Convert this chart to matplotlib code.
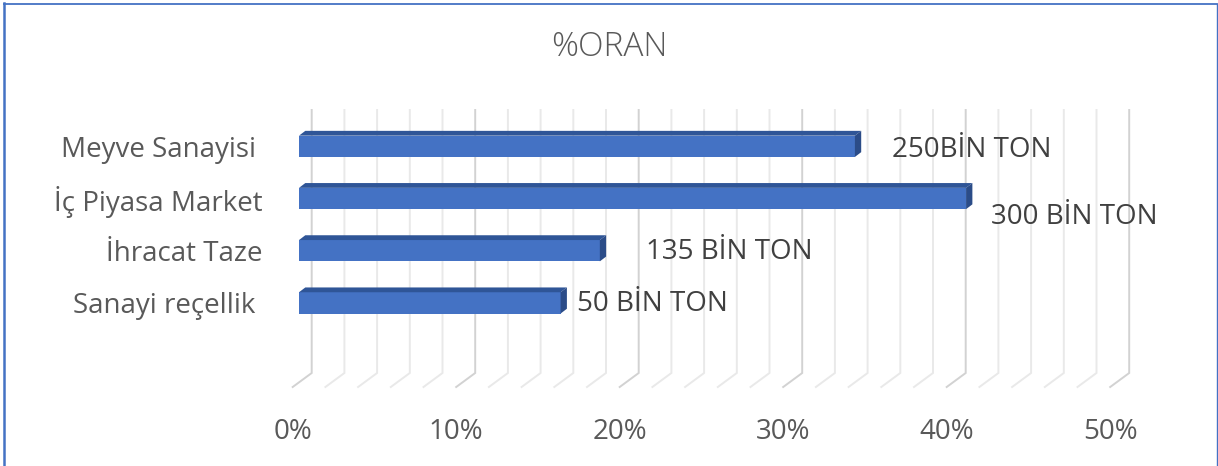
import matplotlib
matplotlib.use('Agg')
import matplotlib.pyplot as plt
import matplotlib.transforms as mtransforms
from matplotlib.patches import Polygon
from matplotlib.lines import Line2D

categories = ['Meyve Sanayisi ', 'İç Piyasa Market', 'İhracat Taze', 'Sanayi reçellik ']
values = [34.0, 40.8, 18.4, 16.0]
bar_labels = ['250BİN TON', '300 BİN TON', '135 BİN TON', '50 BİN TON']
x_ticks = [0, 10, 20, 30, 40, 50]
x_tick_labels = ['0%', '10%', '20%', '30%', '40%', '50%']
title = '%ORAN'

plt.rcParams['font.family'] = ['Open Sans', 'DejaVu Sans']

W, H, DPI = 1218, 466, 100
fig = plt.figure(figsize=(W / DPI, H / DPI), dpi=DPI)

# plot area: left edge at the category labels, bottom at the floor front line
left_px, bottom_px = 263, 387
ax = fig.add_axes([left_px / W, (H - bottom_px) / H, (W - left_px) / W, bottom_px / H])

# pixel scale of the bar plane
x0_px, px_per_pct = 299, 16.35
y0_px, px_per_cat = 146.3, 52.2
ax.set_xlim((left_px - x0_px) / px_per_pct, (W - x0_px) / px_per_pct)
ax.set_ylim((bottom_px - y0_px) / px_per_cat, (0 - y0_px) / px_per_cat)

def dx(px):
    return px / px_per_pct

def dy(px):
    return px / px_per_cat

# back wall / floor gridlines (3d look)
back_x, front_x = dx(12.7), dx(-6.3)
wall_top, wall_bot, floor_front = dy(110 - y0_px), dy(373 - y0_px), dy(bottom_px - y0_px)
for v in range(0, 51, 2):
    major = v % 10 == 0
    ax.plot([v + back_x, v + back_x, v + front_x],
            [wall_top, wall_bot, floor_front],
            color='#d2d2d2' if major else '#e9e9e9', lw=1.4, zorder=1,
            solid_joinstyle='miter', clip_on=False)

# bars
h = dy(21.3)
ddx, ddy = dx(6.3), dy(4.8)
front_c, top_c, side_c = '#4472C4', '#2F5597', '#2B4C88'
for i, v in enumerate(values):
    ax.barh(i, v, height=h, left=0, color=front_c, zorder=3)
    yt = i - h / 2
    yb = i + h / 2
    ax.add_patch(Polygon([(0, yt), (v, yt), (v + ddx, yt - ddy), (ddx, yt - ddy)],
                         closed=True, color=top_c, zorder=3, lw=0))
    ax.add_patch(Polygon([(v, yt), (v + ddx, yt - ddy), (v + ddx, yb - ddy), (v, yb)],
                         closed=True, color=side_c, zorder=3, lw=0))

# data labels (hand-placed offsets like the original)
label_offsets = [(37, -4), (25, -18), (46, -1), (16, -1)]
for i, (v, txt) in enumerate(zip(values, bar_labels)):
    ax.annotate(txt, (v, i), xytext=label_offsets[i], textcoords='offset pixels',
                ha='left', va='center', fontsize=20, color='#404040', zorder=4)

# axes text
ax.set_yticks(range(len(categories)))
ax.set_yticklabels(categories, fontsize=20, color='#595959')
shift = mtransforms.ScaledTranslation(0, -3 / DPI, fig.dpi_scale_trans)
for lab in ax.get_yticklabels():
    lab.set_transform(lab.get_transform() + shift)
ax.set_xticks([t + front_x for t in x_ticks])
ax.set_xticklabels(x_tick_labels, fontsize=20, color='#595959')
ax.tick_params(axis='both', length=0)
ax.tick_params(axis='x', pad=22.5)
ax.tick_params(axis='y', pad=0)
for s in ax.spines.values():
    s.set_visible(False)
ax.patch.set_alpha(0)

fig.text(0.5, 1 - 47 / H, title, ha='center', va='center', fontsize=24,
         color='#595959', fontweight='light')

# chart frame
blue = '#4472C4'
fig.add_artist(Line2D([4 / W, 4 / W], [0, 1 - 3 / H], color=blue, lw=1.8, transform=fig.transFigure))
fig.add_artist(Line2D([4 / W, 1216.5 / W], [1 - 3.5 / H, 1 - 3.5 / H], color=blue, lw=1.3, transform=fig.transFigure))
fig.add_artist(Line2D([1216.5 / W, 1216.5 / W], [0, 1 - 3.5 / H], color=blue, lw=1.0, transform=fig.transFigure))

fig.savefig('out.png', dpi=DPI)
